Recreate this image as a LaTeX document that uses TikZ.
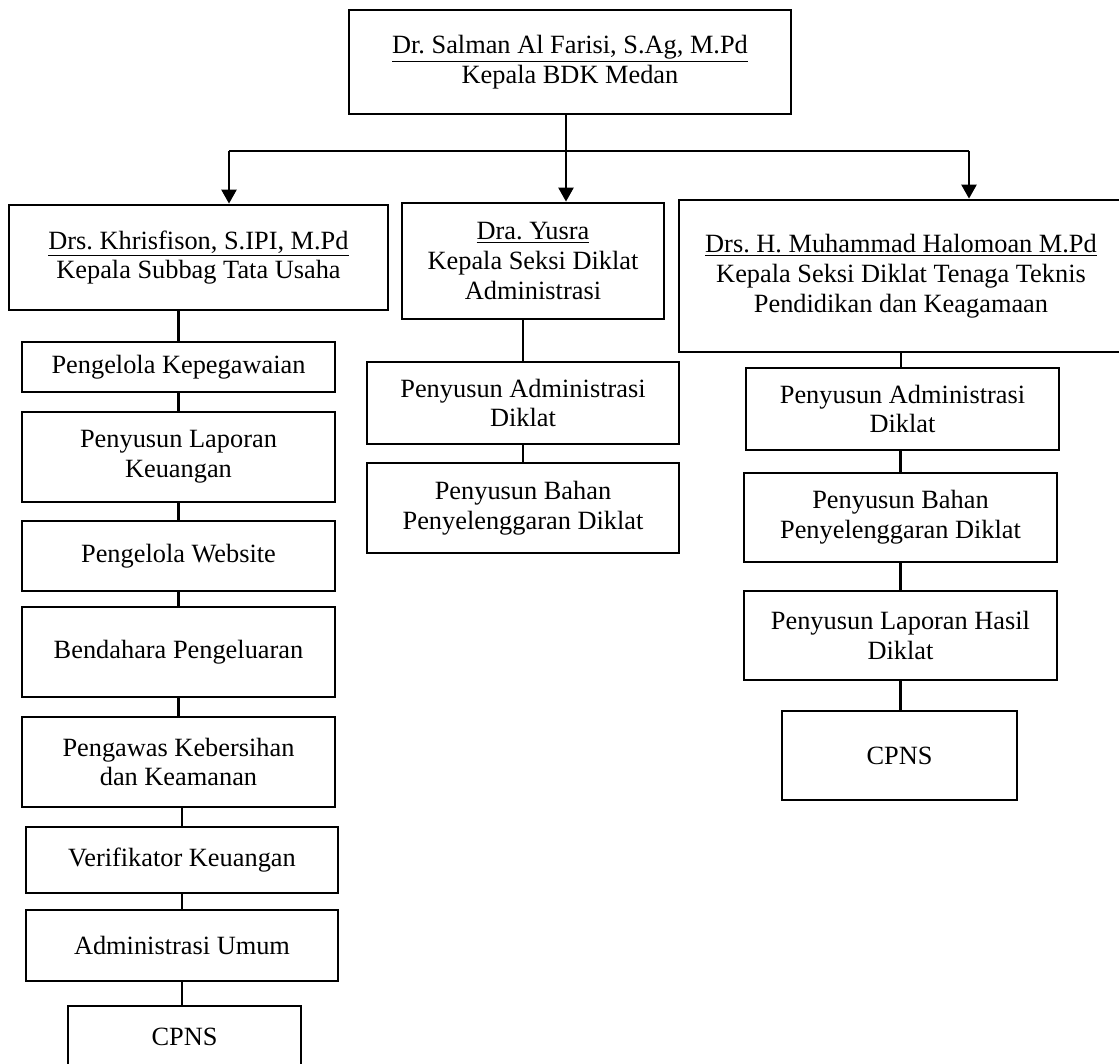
\documentclass[tikz,border=0pt]{standalone}
\usepackage{fontspec}
\setmainfont{Liberation Serif}
\usetikzlibrary{arrows.meta}
\frenchspacing

\begin{document}
\begin{tikzpicture}[x=0.02cm,y=-0.02cm,
		box/.style={draw,line width=1.6pt,rectangle,align=center,inner sep=0pt,font=\fontsize{15}{17}\selectfont},
		sub/.style={box,minimum width=6.26cm},
		link/.style={line width=1.4pt},
		down/.style={line width=1.4pt,-{Triangle[length=0.28cm,width=0.3cm]}}]
		\useasboundingbox (0,0) rectangle (1119,1064);
		
		\node[box,minimum width=8.84cm,minimum height=2.08cm] (kbdk) at (570,62) {\underline{Dr. Salman Al Farisi, S.Ag, M.Pd}\\Kepala BDK Medan};
		
		\node[box,minimum width=7.58cm,minimum height=2.10cm] (ktu) at (198.5,257.5) {\underline{Drs. Khrisfison, S.IPI, M.Pd}\\Kepala Subbag Tata Usaha};
		\node[box,minimum width=5.24cm,minimum height=2.32cm] (ksa) at (533,261) {\underline{Dra. Yusra}\\Kepala Seksi Diklat\\Administrasi};
		\node[box,minimum width=8.88cm,minimum height=3.04cm] (kst) at (901,276) {\underline{Drs. H. Muhammad Halomoan M.Pd}\\Kepala Seksi Diklat Tenaga Teknis\\Pendidikan dan Keagamaan};
		
		\coordinate (split) at (566,151);
		\coordinate (bl) at (229,151);
		\coordinate (br) at (969,151);
		\draw[link] (kbdk.south -| split) -- (split);
		\draw[link] (bl) -- (br);
		\draw[down] (bl) -- (bl |- ktu.north);
		\draw[down] (split) -- (split |- ksa.north);
		\draw[down] (br) -- (br |- kst.north);
		
		% tata usaha
		\node[sub,minimum height=1.00cm] (pk) at (178.5,367) {Pengelola Kepegawaian};
		\node[sub,minimum height=1.80cm] (plk) at (178.5,457) {Penyusun Laporan\\Keuangan};
		\node[sub,minimum height=1.40cm] (pw) at (178.5,556) {Pengelola Website};
		\node[sub,minimum height=1.80cm] (bp) at (178.5,652) {Bendahara Pengeluaran};
		\node[sub,minimum height=1.80cm] (pkk) at (178.5,762) {Pengawas Kebersihan\\dan Keamanan};
		\node[sub,minimum width=6.24cm,minimum height=1.32cm] (vk) at (182,860) {Verifikator Keuangan};
		\node[sub,minimum width=6.24cm,minimum height=1.42cm] (au) at (182,945.5) {Administrasi Umum};
		\node[box,minimum width=4.66cm,minimum height=1.24cm] (cp1) at (184.5,1037) {CPNS};
		
		\draw[link] (pk.north |- ktu.south) -- (pk.north);
		\draw[link] (pk.south) -- (plk.north);
		\draw[link] (plk.south) -- (pw.north);
		\draw[link] (pw.south) -- (bp.north);
		\draw[link] (bp.south) -- (pkk.north);
		\draw[link] (vk.north |- pkk.south) -- (vk.north);
		\draw[link] (vk.south) -- (au.north);
		\draw[link] (au.south) -- (au.south |- cp1.north);
		
		% seksi administrasi
		\node[sub,minimum width=6.24cm,minimum height=1.64cm] (pad1) at (523,403) {Penyusun Administrasi\\Diklat};
		\node[sub,minimum width=6.24cm,minimum height=1.80cm] (pb1) at (523,508) {Penyusun Bahan\\Penyelenggaran Diklat};
		
		\draw[link] (pad1.north |- ksa.south) -- (pad1.north);
		\draw[link] (pad1.south) -- (pb1.north);
		
		% seksi tenaga teknis
		\node[sub,minimum height=1.64cm] (pad2) at (902.5,409) {Penyusun Administrasi\\Diklat};
		\node[sub,minimum height=1.78cm] (pb2) at (900.5,517.5) {Penyusun Bahan\\Penyelenggaran Diklat};
		\node[sub,minimum height=1.78cm] (plh) at (900.5,635.5) {Penyusun Laporan Hasil\\Diklat};
		\node[box,minimum width=4.70cm,minimum height=1.78cm] (cp2) at (899.5,755.5) {CPNS};
		
		\draw[link] (kst.south) -- (kst.south |- pad2.north);
		\draw[link] (pb2.north |- pad2.south) -- (pb2.north);
		\draw[link] (pb2.south) -- (plh.north);
		\draw[link] (plh.south) -- (plh.south |- cp2.north);
	\end{tikzpicture}
\end{document}
